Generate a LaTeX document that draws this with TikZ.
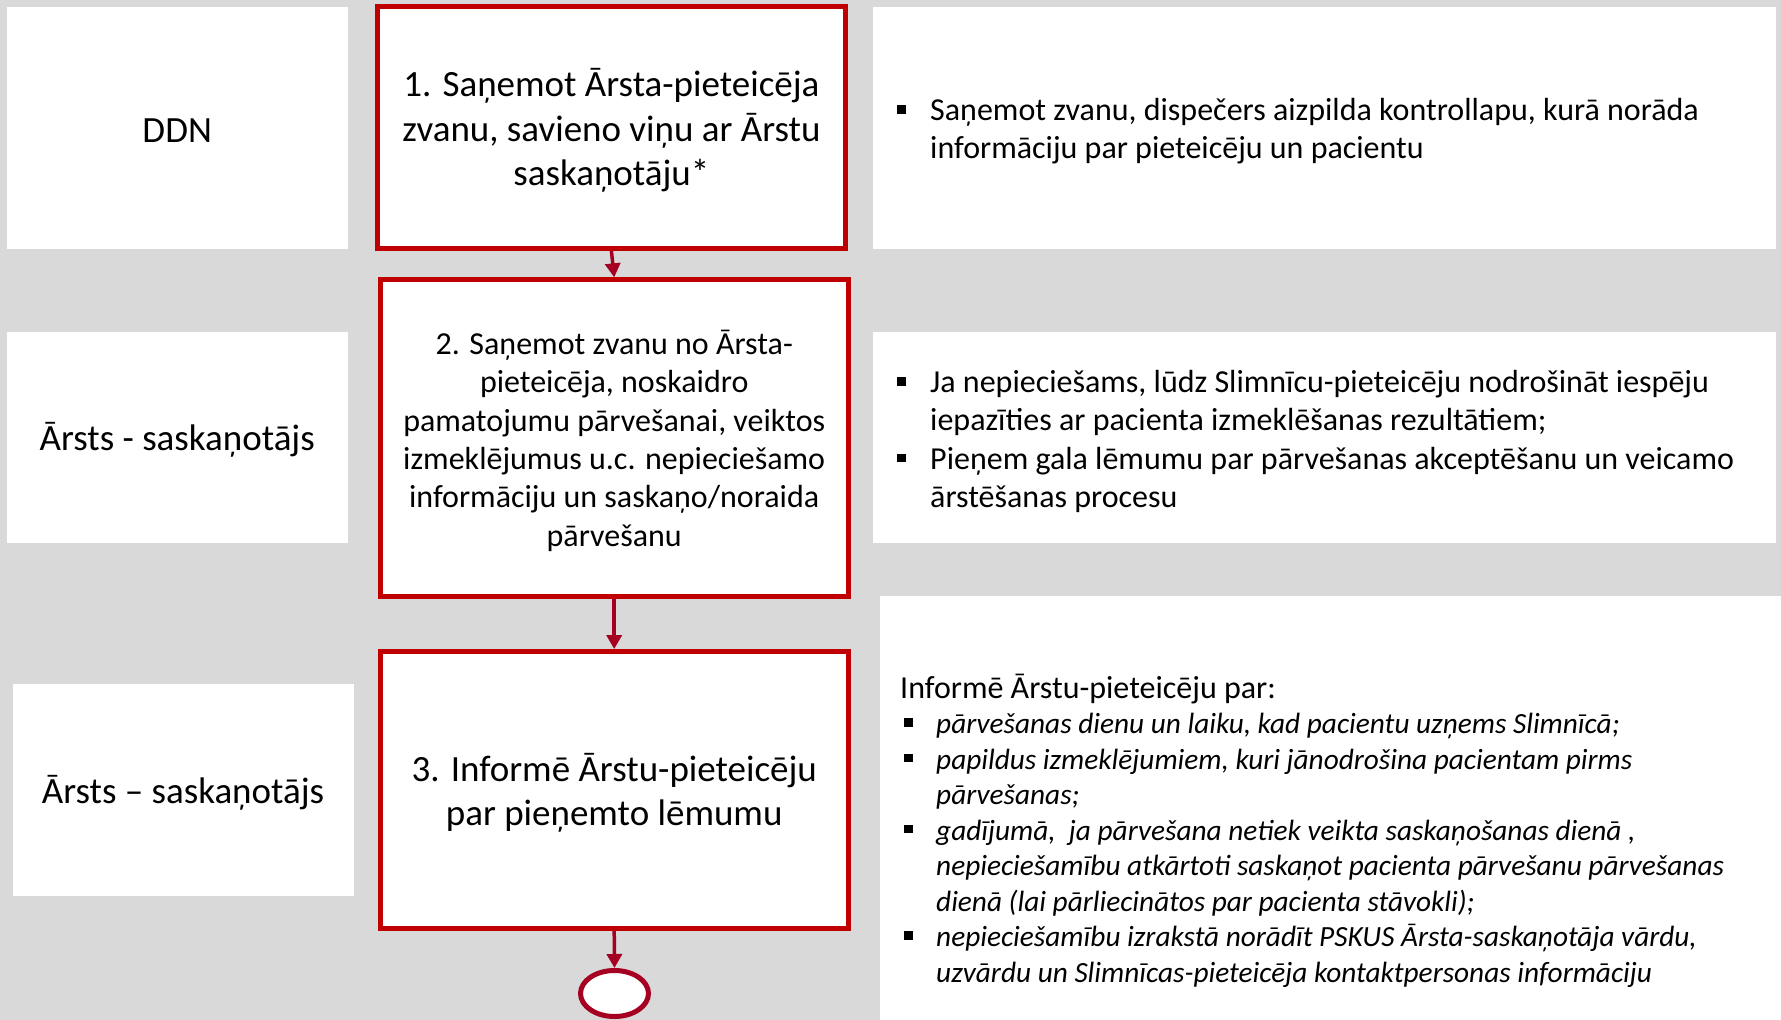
\documentclass[tikz,border=0pt]{standalone}
\usepackage{fontspec}
\setmainfont{Carlito}
\usetikzlibrary{arrows.meta,shapes.geometric}
\definecolor{bggray}{HTML}{D9D9D9}
\definecolor{boxred}{HTML}{C00000}
\definecolor{arrred}{HTML}{A50021}
\newcommand{\sqbul}{\rule[7pt]{8.5pt}{8.5pt}}
\newcommand{\itb}{\fontsize{29.3}{35.5}\selectfont\itshape}
\begin{document}
\begin{tikzpicture}[x=1pt,y=-1pt,
  lane/.style={fill=white, draw=none, inner sep=0pt},
  bigtext/.style={inner sep=0pt, align=center, font=\fontsize{37}{44.3}\selectfont},
  stepbox/.style={draw=boxred, line width=5pt, fill=white, inner sep=0pt,
    minimum width=468pt},
  endbox/.style={ellipse, draw=arrred, line width=5pt, fill=white, inner sep=0pt,
    minimum width=68pt, minimum height=46pt},
  flow/.style={draw=arrred, line width=3.5pt, -{Triangle[length=14pt,width=15pt]}},
  rtext/.style={anchor=west, inner sep=0pt, align=left},
  notebox/.style={fill=white}
]
\useasboundingbox (0,0) rectangle (1781,1020);
\fill[bggray] (0,0) rectangle (1781,1020);

% left lane boxes and labels
\node[lane, minimum width=340.8pt, minimum height=241.7pt] (l1) at (177.2,127.85) {};
\node[lane, minimum width=340.8pt, minimum height=211.3pt] (l2) at (177.2,437.35) {};
\node[lane, minimum width=341pt, minimum height=211.5pt] (l3) at (183,789.75) {};
\node[bigtext] (l1t) at (177.2,130.5) {DDN};
\node[bigtext] (l2t) at (177.2,440) {Ārsts - saskaņotājs};
\node[bigtext] (l3t) at (183,792.5) {Ārsts – saskaņotājs};

% right note boxes
\fill[notebox] (873.4,7) rectangle (1776.4,248.7);
\fill[notebox] (873.4,331.7) rectangle (1776.4,542.8);
\fill[notebox] (880,596) rectangle (1781,1020);

% steps
\node[stepbox, minimum height=241.4pt] (s1) at (611.4,127.5) {};
\node[stepbox, minimum height=316.7pt] (s2) at (614.2,438.2) {};
\node[stepbox, minimum height=276.7pt] (s3) at (614.2,789.9) {};
\node[endbox] (end) at (614.5,993.5) {};

\node[bigtext] (s1t) at (611.4,130.5)
  {1. Saņemot Ārsta-pieteicēja\\zvanu, savieno viņu ar Ārstu\\saskaņotāju*};
\node[bigtext, font=\fontsize{32}{38.4}\selectfont] (s2t) at (614.2,440.7)
  {2. Saņemot zvanu no Ārsta-\\pieteicēja, noskaidro\\pamatojumu pārvešanai, veiktos\\izmeklējumus u.c. nepieciešamo\\informāciju un saskaņo/noraida\\pārvešanu};
\node[bigtext] (s3t) at (614.2,793)
  {3. Informē Ārstu-pieteicēju\\par pieņemto lēmumu};

\draw[flow] (s1.south) -- (s2.north);
\draw[flow] (s2.south) -- (s3.north);
\draw[flow] (s3.south) -- (end.north);

% notes
\node[rtext, font=\fontsize{32}{38.2}\selectfont] (n1) at (897,132)
  {\begin{tabular}{@{}l@{}l@{}}
   \makebox[33pt][l]{\sqbul} & Saņemot zvanu, dispečers aizpilda kontrollapu, kurā norāda\\
    & informāciju par pieteicēju un pacientu
   \end{tabular}};
\node[rtext, font=\fontsize{32}{38.4}\selectfont] (n2) at (897,442.5)
  {\begin{tabular}{@{}l@{}l@{}}
   \makebox[33pt][l]{\sqbul} & Ja nepieciešams, lūdz Slimnīcu-pieteicēju nodrošināt iespēju\\
    & iepazīties ar pacienta izmeklēšanas rezultātiem;\\
   \makebox[33pt][l]{\sqbul} & Pieņem gala lēmumu par pārvešanas akceptēšanu un veicamo\\
    & ārstēšanas procesu
   \end{tabular}};
\node[rtext, font=\fontsize{32}{35.5}\selectfont] (n3) at (900,833)
  {\begin{tabular}{@{}l@{}l@{}}
   \multicolumn{2}{@{}l@{}}{Informē Ārstu-pieteicēju par:}\\
   \makebox[36pt][l]{\hspace{4pt}\sqbul} & \itb pārvešanas dienu un laiku, kad pacientu uzņems Slimnīcā;\\
   \makebox[36pt][l]{\hspace{4pt}\sqbul} & \itb papildus izmeklējumiem, kuri jānodrošina pacientam pirms\\
    & \itb pārvešanas;\\
   \makebox[36pt][l]{\hspace{4pt}\sqbul} & \itb gadījumā,\ \ ja pārvešana netiek veikta saskaņošanas dienā ,\\
    & \itb nepieciešamību atkārtoti saskaņot pacienta pārvešanu pārvešanas\\
    & \itb dienā (lai pārliecinātos par pacienta stāvokli);\\
   \makebox[36pt][l]{\hspace{4pt}\sqbul} & \itb nepieciešamību izrakstā norādīt PSKUS Ārsta-saskaņotāja vārdu,\\
    & \itb uzvārdu un Slimnīcas-pieteicēja kontaktpersonas informāciju
   \end{tabular}};
\end{tikzpicture}
\end{document}
